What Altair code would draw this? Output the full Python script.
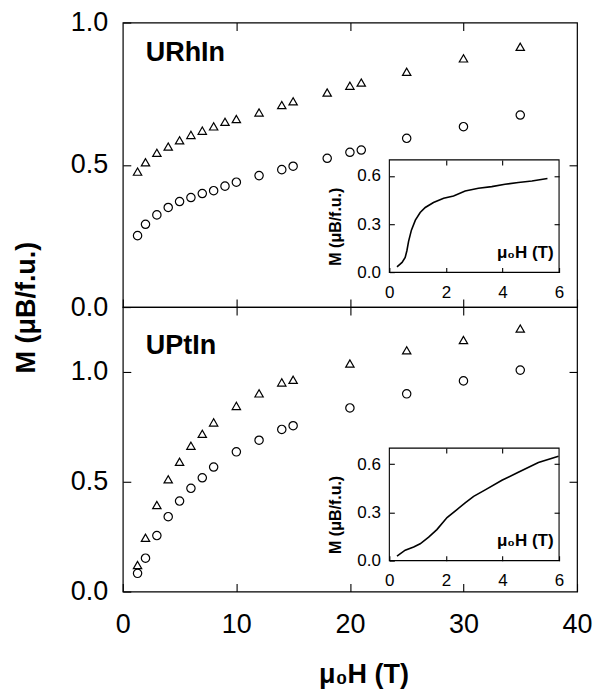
import altair as alt
import pandas as pd

# ---------------- data ----------------
# URhIn (top panel): field in T, two series (triangles, circles)
urhin_h = [1.3, 2, 3, 4, 5, 6, 7, 8, 9, 10, 12, 14, 15, 18, 20, 21, 25, 30, 35]
urhin_tri = [0.476, 0.509, 0.542, 0.564, 0.586, 0.605, 0.620, 0.635, 0.651, 0.661,
             0.684, 0.710, 0.723, 0.754, 0.778, 0.789, 0.827, 0.874, 0.915]
urhin_circ = [0.251, 0.291, 0.324, 0.350, 0.371, 0.385, 0.399, 0.409, 0.425, 0.439,
              0.462, 0.483, 0.495, 0.523, 0.544, 0.552, 0.593, 0.634, 0.675]

# UPtIn (bottom panel)
uptin_h = [1.3, 2, 3, 4, 5, 6, 7, 8, 10, 12, 14, 15, 20, 25, 30, 35]
uptin_tri = [0.121, 0.245, 0.394, 0.511, 0.591, 0.664, 0.718, 0.770, 0.845, 0.902,
             0.952, 0.964, 1.038, 1.098, 1.145, 1.197]
uptin_circ = [0.083, 0.152, 0.255, 0.341, 0.412, 0.470, 0.518, 0.567, 0.636, 0.689,
              0.738, 0.755, 0.836, 0.900, 0.959, 1.008]

# insets: low-field magnetisation curves
rh_inset_h = [0.27, 0.45, 0.56, 0.62, 0.68, 0.78, 0.92, 1.09, 1.27, 1.56, 1.92, 2.27,
              2.68, 3.15, 3.62, 4.09, 4.56, 5.04, 5.59]
rh_inset_m = [0.035, 0.062, 0.093, 0.135, 0.193, 0.263, 0.325, 0.373, 0.404, 0.435,
              0.462, 0.476, 0.507, 0.524, 0.534, 0.549, 0.559, 0.569, 0.584]
pt_inset_h = [0.27, 0.56, 0.86, 1.09, 1.39, 1.68, 2.04, 2.39, 2.68, 2.98, 3.39, 3.98,
              4.56, 5.27, 5.98]
pt_inset_m = [0.028, 0.065, 0.085, 0.105, 0.146, 0.193, 0.268, 0.318, 0.359, 0.400,
              0.440, 0.500, 0.550, 0.610, 0.650]

main_x_ticks = [0, 10, 20, 30, 40]
inset_x_ticks = [0, 2, 4, 6]
inset_y_ticks = [0.0, 0.3, 0.6]

FONT = "Liberation Sans"
W, H = 455, 285
INK = "#000000"


def points_df(h, tri, circ):
    return pd.DataFrame({
        "H": list(h) + list(h),
        "M": list(tri) + list(circ),
        "series": ["triangle"] * len(h) + ["circle"] * len(h),
    })


def panel(pts, label, label_y, ydom, yticks, right_ticks, inset_h, inset_m, box,
          top_panel):
    left, right, top, bottom = box
    xs = alt.Scale(domain=[0, 40], nice=False)
    ys = alt.Scale(domain=ydom, nice=False)

    bottom_axis = alt.Axis(
        orient="bottom", values=main_x_ticks, format="d", tickSize=8, offset=-8,
        domain=False, grid=False, labels=not top_panel, labelFontSize=27,
        labelPadding=20, labelFlush=False, labelOverlap=False,
        title=None if top_panel else "μ₀H (T)",
        titleFontSize=27, titleFontWeight="bold", titleX=241, titleY=99,
        titleAlign="center", titleBaseline="alphabetic", titleAngle=0,
        zindex=1,
    )
    left_kwargs = dict(
        orient="left", values=yticks, format=".1f", tickSize=8, offset=-8,
        domain=False, grid=False, labelFontSize=27, labelPadding=15,
        labelFlush=False, labelOverlap=False, zindex=1,
    )
    if top_panel:
        left_axis = alt.Axis(
            title="M (μB/f.u.)", titleFontSize=27, titleFontWeight="bold",
            titleX=-104, titleY=285, titleAngle=-90, titleAlign="center",
            titleBaseline="middle", **left_kwargs)
    else:
        left_axis = alt.Axis(title=None, **left_kwargs)

    pts_layer = alt.Chart(pts).mark_point(
        filled=False, size=70, strokeWidth=1.2, color=INK, opacity=1
    ).encode(
        x=alt.X("H:Q", scale=xs, axis=bottom_axis),
        y=alt.Y("M:Q", scale=ys, axis=left_axis),
        shape=alt.Shape("series:N", legend=None,
                        scale=alt.Scale(domain=["triangle", "circle"],
                                        range=["triangle-up", "circle"])),
    )

    mirror_layer = alt.Chart(pts).mark_point(opacity=0).encode(
        x=alt.X("H:Q", scale=xs, axis=alt.Axis(
            orient="top", values=[10, 20, 30], tickSize=8, offset=-8,
            labels=False, domain=False, grid=False, title=None, zindex=1)),
        y=alt.Y("M:Q", scale=ys, axis=alt.Axis(
            orient="right", values=right_ticks, tickSize=8, offset=-8,
            labels=False, domain=False, grid=False, title=None, zindex=1)),
    )

    ixs = alt.Scale(domain=[0, 6], range=[left, right], nice=False)
    iys = alt.Scale(domain=[0, 0.7], range=[bottom, top], nice=False)

    frame_df = pd.DataFrame({"x0": [0], "x1": [6], "y0": [0.0], "y1": [0.7]})
    frame_layer = alt.Chart(frame_df).mark_rect(
        fill="white", stroke="black", strokeWidth=1.1
    ).encode(
        x=alt.X("x0:Q", scale=ixs, axis=alt.Axis(
            orient="bottom", values=inset_x_ticks, format="d", tickSize=5,
            offset=(bottom - 5) - H, domain=False, grid=False, labelFontSize=17,
            labelPadding=12, labelFlush=False, labelOverlap=False,
            title="μ₀H (T)", titleFontSize=17, titleFontWeight="bold",
            titleX=431, titleY=-10, titleAlign="right",
            titleBaseline="alphabetic", titleAngle=0, zindex=1)),
        x2="x1:Q",
        y=alt.Y("y0:Q", scale=iys, axis=alt.Axis(
            orient="left", values=inset_y_ticks, format=".1f", tickSize=5,
            offset=-(left + 5), domain=False, grid=False, labelFontSize=17,
            labelPadding=9, labelFlush=False, labelOverlap=False,
            title="M (μB/f.u.)", titleFontSize=16, titleFontWeight="bold",
            titleX=-59, titleY=(top + bottom) / 2 + 10, titleAngle=-90,
            titleAlign="center", titleBaseline="middle", zindex=1)),
        y2="y1:Q",
    )

    inset_df = pd.DataFrame({"h": inset_h, "m": inset_m})
    line_layer = alt.Chart(inset_df).mark_line(
        color="black", strokeWidth=1.6
    ).encode(
        x=alt.X("h:Q", scale=ixs, axis=alt.Axis(
            orient="top", values=[2, 4], tickSize=5, offset=-(top + 5),
            labels=False, domain=False, grid=False, title=None, zindex=1)),
        y=alt.Y("m:Q", scale=iys, axis=alt.Axis(
            orient="right", values=[0.3, 0.6], tickSize=5,
            offset=(right - 5) - W, labels=False, domain=False, grid=False,
            title=None, zindex=1)),
    )

    label_layer = alt.Chart(pd.DataFrame({"t": [label]})).mark_text(
        align="left", baseline="alphabetic", fontSize=27, fontWeight="bold",
        color="black", font=FONT
    ).encode(
        x=alt.value(23), y=alt.value(label_y), text="t:N"
    )

    return alt.layer(
        pts_layer, mirror_layer, frame_layer, line_layer, label_layer
    ).resolve_scale(
        x="independent", y="independent"
    ).resolve_axis(
        x="independent", y="independent"
    ).properties(width=W, height=H)


top = panel(points_df(urhin_h, urhin_tri, urhin_circ), "URhIn", 39,
            [0, 1.0], [0.0, 0.5, 1.0], [0.5],
            rh_inset_h, rh_inset_m, (267, 437, 137.6, 250.3), True)
bot = panel(points_df(uptin_h, uptin_tri, uptin_circ), "UPtIn", 47,
            [0, 1.295], [0.0, 0.5, 1.0], [0.5, 1.0],
            pt_inset_h, pt_inset_m, (267, 437, 141.3, 254.0), False)

chart = alt.vconcat(top, bot, spacing=0, bounds="flush").properties(
    padding={"left": 12, "top": 7, "right": 0, "bottom": 0}
).configure(
    font=FONT, background="white"
).configure_view(
    stroke="black", strokeWidth=1.2
).configure_axis(
    labelFont=FONT, titleFont=FONT, labelColor="black", titleColor="black",
    tickColor="black", tickWidth=1.1
)

chart.save("out.html", embed_options={"renderer": "svg", "actions": False})
